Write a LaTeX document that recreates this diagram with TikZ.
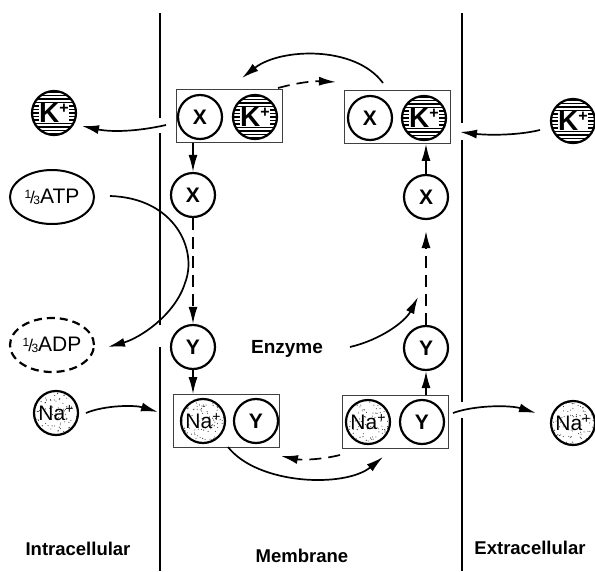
\documentclass[tikz,border=0pt]{standalone}
\usepackage{fontspec}
\setmainfont{Liberation Sans}
\usetikzlibrary{arrows.meta,calc,shapes.geometric}
\newcommand\kpl{{\setlength{\fboxsep}{0.3pt}\colorbox{white}{\fontsize{28}{28}\selectfont\bfseries K\raisebox{9pt}{\fontsize{16}{16}\selectfont +}}}}
\newcommand\napl{{\fontsize{21}{21}\selectfont Na\raisebox{7pt}{\fontsize{14}{14}\selectfont +}}}
\newcommand\onethird{\raisebox{5pt}{\fontsize{12}{12}\selectfont 1}\kern-1pt{\fontsize{17}{17}\selectfont /}\kern-1.5pt\raisebox{-1pt}{\fontsize{12}{12}\selectfont 3}}
\tikzset{
  mem/.style={line width=2pt},
  ion/.style={circle,draw,line width=2.2pt,minimum size=44pt,inner sep=0pt},
  xy/.style={ion,font=\fontsize{21}{21}\selectfont\bfseries},
  kion/.style={ion,path picture={\foreach \d in {-21,-17.5,...,21}{\draw[line width=1.3pt] ([yshift=\d*1pt]path picture bounding box.west) -- ++(50pt,0pt);}}},
  naion/.style={ion,path picture={\pgfmathsetseed{#1}\foreach \i in {1,...,100}{\fill[black!80] ($(path picture bounding box.center)+(rand*22pt,rand*22pt)$) circle (0.55pt);}}},
  pairbox/.style={draw,black!75,line width=0.7pt,minimum width=106pt,minimum height=53pt,inner sep=0pt},
  nuc/.style={ellipse,draw,line width=2pt,minimum width=84pt,minimum height=54pt,inner sep=0pt,font=\fontsize{21}{21}\selectfont},
  arr/.style={line width=1.7pt,-{Latex[length=17pt,width=9pt]}},
  darr/.style={arr,dash pattern=on 12pt off 7pt},
  lbl/.style={font=\fontsize{18.5}{18.5}\selectfont\bfseries},
}
\begin{document}
\begin{tikzpicture}[x=1pt,y=-1pt]
\useasboundingbox (0,0) rectangle (595,571);
% membranes
\draw[mem] (160,13) -- (160,118) (160,133) -- (160,325) (160,347) -- (160,571);
\draw[mem] (462,13) -- (462,123) (462,140) -- (462,402) (462,418) -- (462,571);
% boxes
\node[pairbox] (b1) at (229,116) {};
\node[pairbox] (b3) at (397,117) {};
\node[pairbox] (b2) at (226,421) {};
\node[pairbox] (b4) at (395,422) {};
% circles inside boxes
\node[xy] (bx1) at (200,117) {X};
\node[kion] (bk1) at (255,117) {\kpl};
\node[xy] (bx3) at (370,118) {X};
\node[kion] (bk3) at (424,118) {\kpl};
\node[naion=3] (bn2) at (203,421) {\napl};
\node[xy] (by2) at (256,421) {Y};
\node[naion=5] (bn4) at (368,422) {\napl};
\node[xy] (by4) at (422,422) {Y};
% free circles
\node[xy] (Xl) at (193,195) {X};
\node[xy] (Yl) at (193,347) {Y};
\node[xy] (Xr) at (426,197) {X};
\node[xy] (Yr) at (426,348) {Y};
\node[kion] (kL) at (54,113) {\kpl};
\node[kion] (kR) at (573,121) {\kpl};
\node[naion=7] (nL) at (56,413) {\napl};
\node[naion=9] (nR) at (573,423) {\napl};
% ATP / ADP
\node[nuc] (atp) at (52,197) {\onethird ATP};
\node[nuc,dash pattern=on 8pt off 5pt,line width=2.2pt] (adp) at (52,345) {\onethird ADP};
% text
\node[font=\fontsize{19}{19}\selectfont\bfseries] (enz) at (287,349) {Enzyme};
\node[lbl] (intra) at (78,549) {Intracellular};
\node[lbl] (membr) at (302,556) {Membrane};
\node[lbl] (extra) at (530,548) {Extracellular};
% coordinates for free ends
\coordinate (kLa) at (166,125); \coordinate (kLb) at (82,126);
\coordinate (atpa) at (110,196); \coordinate (atpm) at (185,283); \coordinate (atpb) at (108,347);
\coordinate (nLa) at (86,413); \coordinate (nLb) at (158,412);
\coordinate (nRa) at (453,413); \coordinate (nRb) at (536,413);
\coordinate (kRa) at (540,130); \coordinate (kRb) at (460,132);
\coordinate (enza) at (350,347); \coordinate (enzb) at (418,297);
\coordinate (ta) at (383,83); \coordinate (tb) at (242,78);
\coordinate (tda) at (278,88); \coordinate (tdb) at (336,82);
\coordinate (ba) at (228,447); \coordinate (bb) at (383,457);
\coordinate (bda) at (340,455); \coordinate (bdb) at (281,456);
\coordinate (xrt) at (426,231);
% connectors
\draw[arr] (kLa) .. controls (135,132) and (110,132) .. (kLb);
\draw[arr] (Xl |- b1.south) -- (Xl.north);
\draw[darr] (Xl.south) -- (Yl.north);
\draw[arr] (Yl.south) -- (Yl |- b2.north);
\draw[arr] (atpa) .. controls (175,198) and (198,250) .. (atpm) .. controls (175,315) and (140,338) .. (atpb);
\draw[arr] (nLa) .. controls (105,405) and (135,405) .. (nLb);
\draw[arr] (nRa) .. controls (475,405) and (510,405) .. (nRb);
\draw[arr] (kRa) .. controls (515,136) and (485,135) .. (kRb);
\draw[arr] (Xr.north) -- (Xr |- b3.south);
\draw[darr] (Yr.north) -- (xrt);
\draw[arr] (Yr |- b4.north) -- (Yr.south);
\draw[arr] (enza) .. controls (380,340) and (405,322) .. (enzb);
\draw[arr] (ta) .. controls (355,45) and (280,48) .. (tb);
\draw[darr] (tda) .. controls (300,82) and (315,81) .. (tdb);
\draw[arr] (ba) .. controls (258,485) and (345,488) .. (bb);
\draw[darr] (bda) .. controls (320,460) and (300,460) .. (bdb);
\end{tikzpicture}
\end{document}
